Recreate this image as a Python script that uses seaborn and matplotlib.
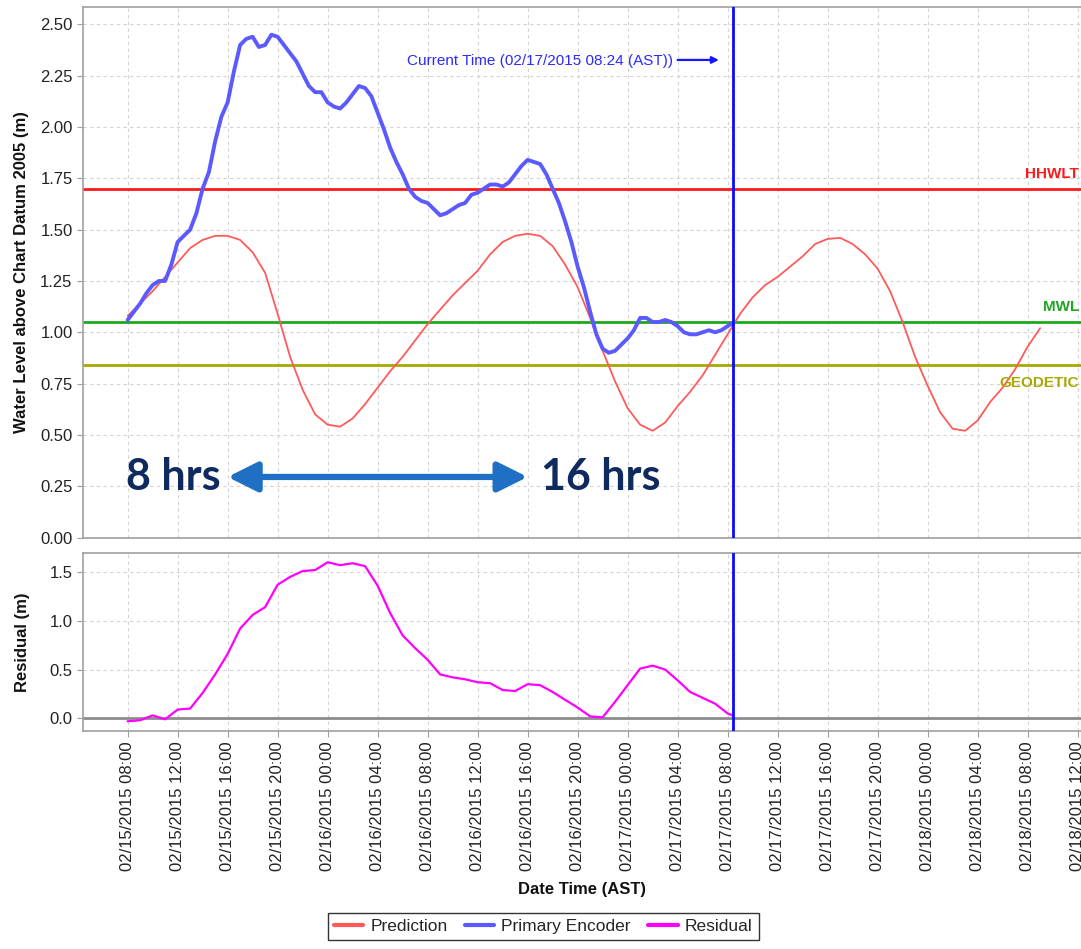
import matplotlib
matplotlib.use("Agg")
import numpy as np
import pandas as pd
import matplotlib.pyplot as plt
import matplotlib.dates as mdates
from matplotlib.lines import Line2D
import seaborn as sns

# ---- data -------------------------------------------------------------
start = pd.Timestamp("2015-02-15 08:00")

# predicted tide, hourly from 02/15 08:00
pred_hours = list(range(74))
prediction = [1.08, 1.14, 1.20, 1.27, 1.34, 1.41, 1.45, 1.47, 1.47, 1.45,
              1.39, 1.29, 1.09, 0.88, 0.72, 0.60, 0.55, 0.54, 0.58, 0.65,
              0.73, 0.81, 0.88, 0.96, 1.04, 1.11, 1.18, 1.24, 1.30, 1.38,
              1.44, 1.47, 1.48, 1.47, 1.42, 1.33, 1.22, 1.07, 0.91, 0.76,
              0.63, 0.55, 0.52, 0.56, 0.64, 0.71, 0.79, 0.89, 0.99, 1.09,
              1.17, 1.23, 1.27, 1.32, 1.37, 1.43, 1.455, 1.46, 1.43, 1.38,
              1.31, 1.20, 1.05, 0.88, 0.74, 0.61, 0.53, 0.52, 0.57, 0.66,
              0.73, 0.82, 0.93, 1.02]

# primary encoder observations, half-hourly up to the current time
obs_hours = [i * 0.5 for i in range(97)] + [48.4]
primary = [1.06, 1.10, 1.14, 1.19, 1.23, 1.25, 1.25, 1.33, 1.44, 1.47,
           1.50, 1.58, 1.70, 1.78, 1.93, 2.05, 2.12, 2.27, 2.40, 2.43,
           2.44, 2.39, 2.40, 2.45, 2.44, 2.40, 2.36, 2.32, 2.26, 2.20,
           2.17, 2.17, 2.12, 2.10, 2.09, 2.12, 2.16, 2.20, 2.19, 2.15,
           2.07, 1.99, 1.90, 1.83, 1.77, 1.70, 1.66, 1.64, 1.63, 1.60,
           1.57, 1.58, 1.60, 1.62, 1.63, 1.67, 1.68, 1.70, 1.72, 1.72,
           1.71, 1.73, 1.77, 1.81, 1.84, 1.83, 1.82, 1.77, 1.70, 1.63,
           1.54, 1.44, 1.32, 1.22, 1.10, 0.99, 0.92, 0.90, 0.91, 0.94,
           0.97, 1.01, 1.07, 1.07, 1.05, 1.05, 1.06, 1.05, 1.03, 1.00,
           0.99, 0.99, 1.00, 1.01, 1.00, 1.01, 1.03, 1.045]

# residual (observed minus predicted), hourly
res_hours = list(range(49)) + [48.4]
residual = [-0.03, -0.02, 0.03, -0.01, 0.09, 0.10, 0.26, 0.45, 0.66, 0.92,
            1.06, 1.14, 1.37, 1.45, 1.51, 1.52, 1.60, 1.57, 1.59, 1.56,
            1.36, 1.08, 0.85, 0.72, 0.60, 0.45, 0.42, 0.40, 0.37, 0.36,
            0.29, 0.28, 0.35, 0.34, 0.27, 0.19, 0.11, 0.02, 0.01, 0.17,
            0.34, 0.51, 0.54, 0.50, 0.39, 0.27, 0.21, 0.15, 0.05, 0.03]

level_names = ["HHWLT", "MWL", "GEODETIC"]
level_values = [1.70, 1.05, 0.84]
level_colors = ["#ff1a1a", "#1fa81f", "#a8a800"]

current_hour = 48.4
current_label = "Current Time (02/17/2015 08:24 (AST))"
series_names = ["Prediction", "Primary Encoder", "Residual"]
series_colors = ["#ff5a5a", "#5a5aff", "#ff00ff"]


def to_time(hours):
    return [start + pd.Timedelta(hours=h) for h in hours]


pred_df = pd.DataFrame({"time": to_time(pred_hours), "level": prediction})
obs_df = pd.DataFrame({"time": to_time(obs_hours), "level": primary})
res_df = pd.DataFrame({"time": to_time(res_hours), "level": residual})

# ---- style ------------------------------------------------------------
sns.set_theme(style="white")
plt.rcParams["font.family"] = ["Liberation Sans", "DejaVu Sans"]

W, H = 1081, 949
fig = plt.figure(figsize=(W / 100, H / 100), dpi=100)
left = 83 / W
width = 1 - left
ax1 = fig.add_axes([left, 1 - 537.5 / H, width, (537.5 - 7) / H])
ax2 = fig.add_axes([left, 1 - 731 / H, width, (731 - 553) / H], sharex=ax1)

grid_kw = dict(color="#d3d3d3", linestyle=(0, (3, 3)), linewidth=0.8)
for ax in (ax1, ax2):
    ax.set_facecolor("white")
    ax.grid(True, **grid_kw)
    for side in ("left", "bottom", "top"):
        ax.spines[side].set_color("#a0a0a0")
        ax.spines[side].set_linewidth(1.2)
    ax.spines["right"].set_visible(False)
    ax.tick_params(axis="both", which="both", direction="out", length=4,
                   width=0.8, color="#a0a0a0", labelsize=12,
                   labelcolor="#222222", left=True, bottom=True)

# ---- upper panel: water level -----------------------------------------
for name, val, col in zip(level_names, level_values, level_colors):
    ax1.axhline(val, color=col, linewidth=2, zorder=2)

sns.lineplot(data=pred_df, x="time", y="level", ax=ax1, color=series_colors[0],
             linewidth=1.3, legend=False, zorder=3)
sns.lineplot(data=obs_df, x="time", y="level", ax=ax1, color=series_colors[1],
             linewidth=2.8, legend=False, zorder=4)

x_min = start - pd.Timedelta(hours=3.57)
x_max = start + pd.Timedelta(hours=76.27)
ax1.set_xlim(x_min, x_max)
ax1.set_ylim(0, 2.585)
ax1.set_yticks(np.arange(0, 2.51, 0.25))
ax1.yaxis.set_major_formatter(matplotlib.ticker.FormatStrFormatter("%.2f"))
ax1.set_ylabel("Water Level above Chart Datum 2005 (m)", fontsize=12,
               fontweight="bold", color="#111111", labelpad=8)
ax1.set_xlabel("")
ax1.tick_params(axis="x", labelbottom=False, length=0)

label_offsets = {"HHWLT": 0.07, "MWL": 0.075, "GEODETIC": -0.085}
for name, val, col in zip(level_names, level_values, level_colors):
    ax1.text(0.998, val + label_offsets[name], name,
             transform=ax1.get_yaxis_transform(), ha="right", va="center",
             fontsize=11, fontweight="bold", color=col)

t_now = start + pd.Timedelta(hours=current_hour)
for ax in (ax1, ax2):
    ax.axvline(t_now, color="#0a0aff", linewidth=2, zorder=5)

ax1.text(start + pd.Timedelta(hours=43.6), 2.322, current_label,
         ha="right", va="center", fontsize=11, color="#2a2aff")
ax1.annotate("", xy=(start + pd.Timedelta(hours=47.3), 2.327),
             xytext=(start + pd.Timedelta(hours=44.0), 2.327),
             arrowprops=dict(arrowstyle="-|>", color="#1515ff", lw=1.6,
                             mutation_scale=10, shrinkA=0, shrinkB=0))

# period annotation
arrow_y = 0.295
ax1.annotate("", xy=(start + pd.Timedelta(hours=8.0), arrow_y),
             xytext=(start + pd.Timedelta(hours=32.0), arrow_y),
             arrowprops=dict(arrowstyle="<|-|>,head_length=0.9,head_width=0.45",
                             color="#1f6fc4", lw=4.5, mutation_scale=20,
                             shrinkA=0, shrinkB=0))
ax1.text(start + pd.Timedelta(hours=7.4), arrow_y, "8 hrs", ha="right",
         va="center", fontsize=31, fontweight="bold", color="#0f2a5f",
         family=["Lato", "DejaVu Sans"])
ax1.text(start + pd.Timedelta(hours=33.1), arrow_y, "16 hrs", ha="left",
         va="center", fontsize=31, fontweight="bold", color="#0f2a5f",
         family=["Lato", "DejaVu Sans"])

# ---- lower panel: residual --------------------------------------------
ax2.axhline(0, color="#8c8c8c", linewidth=2, zorder=2)
sns.lineplot(data=res_df, x="time", y="level", ax=ax2, color=series_colors[2],
             linewidth=1.6, legend=False, zorder=3)
ax2.set_ylim(-0.13, 1.695)
ax2.set_yticks([0.0, 0.5, 1.0, 1.5])
ax2.yaxis.set_major_formatter(matplotlib.ticker.FormatStrFormatter("%.1f"))
ax2.set_ylabel("Residual (m)", fontsize=12, fontweight="bold",
               color="#111111", labelpad=14)

ticks = pd.date_range("2015-02-15 08:00", "2015-02-18 12:00", freq="4h")
ax2.set_xticks(ticks)
ax2.xaxis.set_major_formatter(mdates.DateFormatter("%m/%d/%Y %H:%M"))
for lbl in ax2.get_xticklabels():
    lbl.set_rotation(90)
ax2.set_xlabel("Date Time (AST)", fontsize=12, fontweight="bold",
               color="#111111", labelpad=8)

handles = [Line2D([], [], color=c, linewidth=3) for c in series_colors]
leg = fig.legend(handles, series_names, loc="lower center",
                 bbox_to_anchor=(0.5025, 0.0), ncol=3, frameon=True,
                 fancybox=False, fontsize=12.5, handlelength=1.7,
                 handletextpad=0.4, columnspacing=1.0, borderpad=0.35)
leg.get_frame().set_edgecolor("black")
leg.get_frame().set_linewidth(1.0)

fig.savefig("out.png", dpi=100)
